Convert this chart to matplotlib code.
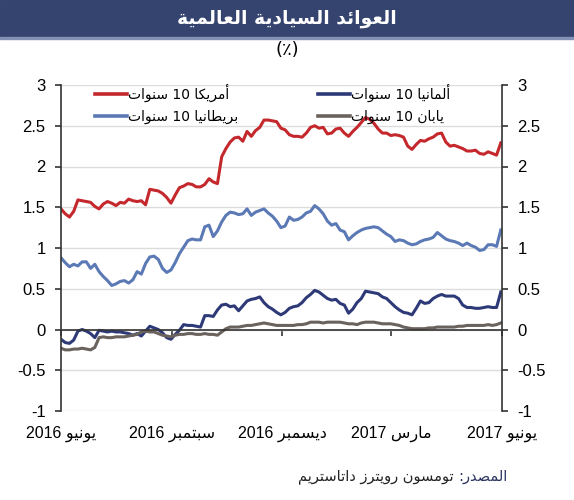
import re

import matplotlib
matplotlib.use("Agg")
import matplotlib.pyplot as plt
import pandas as pd
from matplotlib.lines import Line2D
from matplotlib.patches import Rectangle

plt.rcParams["font.family"] = ["Liberation Sans", "DejaVu Sans"]

# readings twice a week, 1 Jun 2016 .. 31 May 2017
dates = pd.date_range("2016-06-01", periods=105, freq="84h")

us_10y = [1.48, 1.42, 1.38, 1.45, 1.59, 1.58, 1.57, 1.56, 1.51, 1.48,
          1.54, 1.57, 1.55, 1.52, 1.56, 1.55, 1.60, 1.58, 1.57, 1.58,
          1.53, 1.72, 1.71, 1.70, 1.67, 1.62, 1.55, 1.65, 1.74, 1.76,
          1.79, 1.78, 1.75, 1.75, 1.78, 1.85, 1.81, 1.79, 2.12, 2.22,
          2.30, 2.35, 2.36, 2.31, 2.43, 2.37, 2.44, 2.48, 2.57, 2.57,
          2.56, 2.55, 2.47, 2.45, 2.39, 2.37, 2.37, 2.36, 2.41, 2.48,
          2.50, 2.47, 2.48, 2.40, 2.41, 2.46, 2.47, 2.41, 2.37, 2.43,
          2.48, 2.54, 2.60, 2.58, 2.53, 2.46, 2.41, 2.41, 2.38, 2.39,
          2.38, 2.36, 2.25, 2.21, 2.27, 2.32, 2.31, 2.34, 2.36, 2.40,
          2.41, 2.30, 2.25, 2.26, 2.24, 2.22, 2.19, 2.19, 2.20, 2.16,
          2.15, 2.18, 2.16, 2.14, 2.29]
uk_10y = [0.88, 0.82, 0.77, 0.80, 0.78, 0.83, 0.83, 0.75, 0.80, 0.71,
          0.65, 0.60, 0.54, 0.56, 0.59, 0.60, 0.57, 0.61, 0.71, 0.68,
          0.81, 0.89, 0.90, 0.86, 0.75, 0.70, 0.73, 0.82, 0.93, 1.01,
          1.09, 1.11, 1.10, 1.10, 1.26, 1.28, 1.14, 1.21, 1.32, 1.40,
          1.44, 1.43, 1.41, 1.42, 1.48, 1.40, 1.44, 1.46, 1.48, 1.43,
          1.39, 1.33, 1.25, 1.27, 1.38, 1.34, 1.35, 1.38, 1.43, 1.45,
          1.52, 1.48, 1.42, 1.33, 1.28, 1.30, 1.22, 1.20, 1.10, 1.15,
          1.19, 1.22, 1.24, 1.25, 1.26, 1.25, 1.21, 1.17, 1.14, 1.08,
          1.10, 1.09, 1.06, 1.04, 1.05, 1.08, 1.10, 1.11, 1.13, 1.19,
          1.15, 1.11, 1.09, 1.08, 1.06, 1.03, 1.06, 1.03, 1.01, 0.97,
          0.98, 1.04, 1.04, 1.02, 1.22]
de_10y = [-0.12, -0.16, -0.17, -0.13, -0.02, 0.00, -0.02, -0.05, -0.10, -0.01,
          -0.02, -0.03, -0.02, -0.03, -0.03, -0.04, -0.05, -0.07, -0.05, -0.08,
          -0.02, 0.04, 0.02, 0.00, -0.04, -0.10, -0.12, -0.06, -0.01, 0.06,
          0.05, 0.05, 0.04, 0.03, 0.17, 0.17, 0.16, 0.24, 0.30, 0.31,
          0.28, 0.29, 0.23, 0.29, 0.35, 0.37, 0.38, 0.40, 0.33, 0.28,
          0.25, 0.21, 0.18, 0.21, 0.26, 0.28, 0.29, 0.33, 0.39, 0.43,
          0.48, 0.46, 0.42, 0.38, 0.36, 0.37, 0.32, 0.30, 0.20, 0.25,
          0.33, 0.38, 0.47, 0.46, 0.45, 0.44, 0.40, 0.38, 0.33, 0.28,
          0.24, 0.21, 0.20, 0.18, 0.26, 0.35, 0.32, 0.33, 0.38, 0.41,
          0.43, 0.41, 0.41, 0.41, 0.38, 0.30, 0.27, 0.27, 0.26, 0.26,
          0.27, 0.28, 0.27, 0.27, 0.46]
jp_10y = [-0.23, -0.25, -0.25, -0.24, -0.24, -0.23, -0.24, -0.25, -0.22, -0.10,
          -0.09, -0.10, -0.10, -0.09, -0.09, -0.09, -0.08, -0.07, -0.06, -0.03,
          -0.02, -0.03, -0.03, -0.05, -0.07, -0.08, -0.09, -0.07, -0.06, -0.06,
          -0.05, -0.05, -0.06, -0.06, -0.05, -0.06, -0.06, -0.07, -0.03, 0.01,
          0.03, 0.03, 0.03, 0.04, 0.05, 0.05, 0.06, 0.07, 0.08, 0.07,
          0.06, 0.05, 0.05, 0.05, 0.05, 0.05, 0.06, 0.06, 0.07, 0.09,
          0.09, 0.09, 0.08, 0.09, 0.09, 0.09, 0.09, 0.08, 0.07, 0.07,
          0.06, 0.08, 0.09, 0.09, 0.09, 0.08, 0.07, 0.07, 0.07, 0.06,
          0.05, 0.03, 0.02, 0.01, 0.01, 0.01, 0.01, 0.02, 0.02, 0.03,
          0.03, 0.03, 0.03, 0.03, 0.04, 0.04, 0.05, 0.05, 0.05, 0.05,
          0.05, 0.06, 0.05, 0.06, 0.08]

series_names = ["أمريكا 10 سنوات", "بريطانيا 10 سنوات", "ألمانيا 10 سنوات", "يابان 10 سنوات"]
series_colors = ["#c4282c", "#5b79b5", "#2e3a78", "#6a625d"]

month_ticks = ["2016-06-01", "2016-09-01", "2016-12-01", "2017-03-01", "2017-06-01"]
month_labels = ["يونيو 2016", "سبتمبر 2016", "ديسمبر 2016", "مارس 2017", "يونيو 2017"]
y_ticks = [3, 2.5, 2, 1.5, 1, 0.5, 0, -0.5, -1]
y_labels = ["3", "2.5", "2", "1.5", "1", "0.5", "0", "-0.5", "-1"]

title = "العوائد السيادية العالمية"
unit = "(٪)"
source_head = "المصدر:"
source_body = "تومسون رويترز داتاستريم"

# --- minimal Arabic shaping (matplotlib has no bidi / joining) ---
FORMS = {
    "ا": (0xFE8D, 0xFE8E, None, None), "أ": (0xFE83, 0xFE84, None, None),
    "ب": (0xFE8F, 0xFE90, 0xFE91, 0xFE92), "ة": (0xFE93, 0xFE94, None, None),
    "ت": (0xFE95, 0xFE96, 0xFE97, 0xFE98), "ئ": (0xFE89, 0xFE8A, 0xFE8B, 0xFE8C),
    "د": (0xFEA9, 0xFEAA, None, None), "ر": (0xFEAD, 0xFEAE, None, None),
    "ز": (0xFEAF, 0xFEB0, None, None), "س": (0xFEB1, 0xFEB2, 0xFEB3, 0xFEB4),
    "ص": (0xFEB9, 0xFEBA, 0xFEBB, 0xFEBC), "ط": (0xFEC1, 0xFEC2, 0xFEC3, 0xFEC4),
    "ع": (0xFEC9, 0xFECA, 0xFECB, 0xFECC), "ك": (0xFED9, 0xFEDA, 0xFEDB, 0xFEDC),
    "ل": (0xFEDD, 0xFEDE, 0xFEDF, 0xFEE0), "م": (0xFEE1, 0xFEE2, 0xFEE3, 0xFEE4),
    "ن": (0xFEE5, 0xFEE6, 0xFEE7, 0xFEE8), "و": (0xFEED, 0xFEEE, None, None),
    "ي": (0xFEF1, 0xFEF2, 0xFEF3, 0xFEF4),
}
LAM_ALEF = {"ا": (0xFEFB, 0xFEFC), "أ": (0xFEF7, 0xFEF8)}


def joins_left(ch):
    return ch in FORMS and FORMS[ch][2] is not None


def shape(text):
    out, i, n = [], 0, len(text)
    while i < n:
        c = text[i]
        prev = i > 0 and joins_left(text[i - 1])
        if c == "ل" and i + 1 < n and text[i + 1] in LAM_ALEF:
            out.append(chr(LAM_ALEF[text[i + 1]][1 if prev else 0]))
            i += 2
            continue
        if c not in FORMS:
            out.append(c)
            i += 1
            continue
        iso, fin, ini, med = FORMS[c]
        nxt = ini is not None and i + 1 < n and text[i + 1] in FORMS
        if prev and nxt:
            out.append(chr(med))
        elif prev:
            out.append(chr(fin))
        elif nxt:
            out.append(chr(ini))
        else:
            out.append(chr(iso))
        i += 1
    return "".join(out)


def ar(text):
    parts = re.findall(r"\d+|\D", shape(text))
    return "".join(reversed(parts))


W, H = 574, 500
fig = plt.figure(figsize=(W / 100, H / 100), dpi=100)

# title band
fig.patches.append(Rectangle((0, 1 - 37 / H), 1, 37 / H, transform=fig.transFigure,
                             color="#35436f", zorder=0))
fig.patches.append(Rectangle((0, 1 - 39 / H), 1, 2 / H, transform=fig.transFigure,
                             color="#8391b5", zorder=0))
fig.text(0.5, 1 - 18 / H, ar(title), color="white", fontsize=13.5, fontweight="bold",
         ha="center", va="center", family=["DejaVu Sans"])
fig.text(0.5, 1 - 50 / H, unit, fontsize=13, ha="center", va="center",
         family=["DejaVu Sans"])

ax = fig.add_axes([61 / W, 1 - 411 / H, (502 - 61) / W, (411 - 85) / H])
for vals, col in zip([us_10y, uk_10y, de_10y, jp_10y], series_colors):
    ax.plot(dates, vals, color=col, lw=2.2)

ax.set_xlim(pd.Timestamp(month_ticks[0]), pd.Timestamp(month_ticks[-1]))
ax.set_ylim(-1, 3)
ax.set_yticks(y_ticks, y_labels)
ax.set_xticks([pd.Timestamp(d) for d in month_ticks], [ar(m) for m in month_labels])
ax.grid(True, axis="y", color="#dcdcdc", lw=1)
ax.set_axisbelow(True)

for s in ("top", "right"):
    ax.spines[s].set_visible(False)
ax.spines["bottom"].set_position(("data", 0))
ax.spines["bottom"].set_color("#333333")
ax.spines["bottom"].set_linewidth(1.2)
ax.spines["left"].set_color("#333333")
ax.spines["left"].set_linewidth(1.2)
ax.tick_params(axis="y", direction="out", length=4, width=1.2, color="#333333",
               labelsize=12, pad=7)
ax.tick_params(axis="x", direction="out", length=4, width=1.2, color="#333333",
               labelsize=11.5, pad=65)

ax2 = ax.twinx()
ax2.set_ylim(-1, 3)
ax2.set_yticks(y_ticks, y_labels)
for s in ("top", "left", "bottom"):
    ax2.spines[s].set_visible(False)
ax2.spines["right"].set_color("#333333")
ax2.spines["right"].set_linewidth(1.2)
ax2.tick_params(axis="y", direction="out", length=4, width=1.2, color="#333333",
                labelsize=12, pad=7)

handles = [Line2D([], [], color=c, lw=2.6) for c in series_colors]
legend_kw = dict(loc="upper left", frameon=False, handlelength=2.3,
                 handletextpad=0.1, labelspacing=0.55, borderpad=0, borderaxespad=0,
                 prop={"family": ["DejaVu Sans"], "size": 10},
                 bbox_transform=fig.transFigure)
leg1 = ax2.legend(handles[:2], [ar(n) for n in series_names[:2]],
                  bbox_to_anchor=(95 / W, 1 - 84 / H), **legend_kw)
ax2.add_artist(leg1)
ax2.legend(handles[2:], [ar(n) for n in series_names[2:]],
           bbox_to_anchor=(318 / W, 1 - 84 / H), **legend_kw)

head = fig.text(507 / W, 1 - 476 / H, ar(source_head), color="#2b3560", fontsize=10.5,
                ha="right", va="center", family=["DejaVu Sans"])
fig.canvas.draw()
ax.annotate(ar(source_body) + " ", xy=(0, 0.5), xycoords=head, ha="right", va="center",
            fontsize=10.5, color="#222222", family=["DejaVu Sans"], annotation_clip=False)

fig.savefig("out.png", dpi=100)
